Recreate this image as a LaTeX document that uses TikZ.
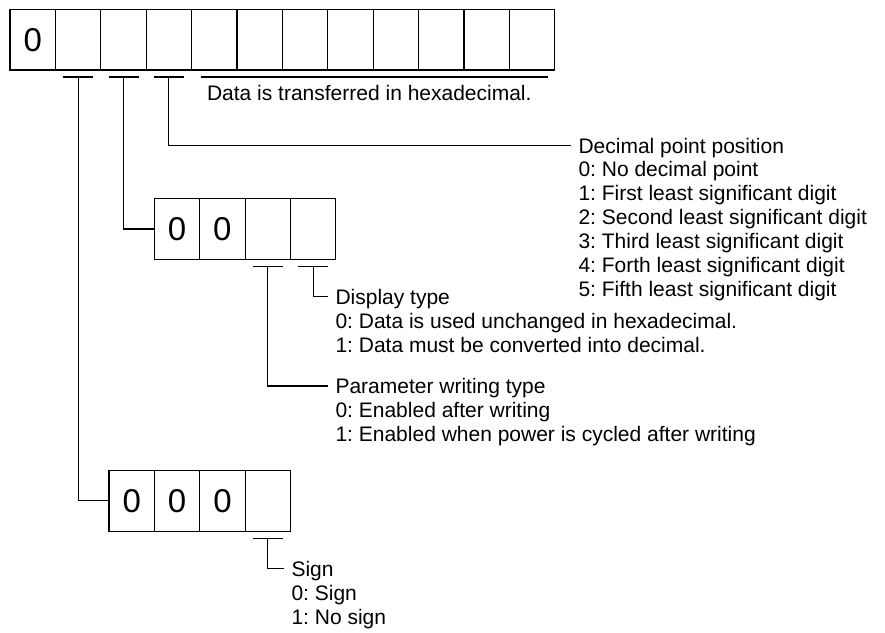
\documentclass[tikz,border=0pt]{standalone}
\usepackage{fontspec}
\setmainfont{Liberation Sans}
\frenchspacing
\begin{document}
\frenchspacing
\begin{tikzpicture}[x=1pt,y=-1pt,line width=1.1pt,
  cell/.style={draw,minimum width=45.4pt,minimum height=60.5pt,inner sep=0pt,outer sep=0pt,font=\fontsize{33}{33}\selectfont},
  digit/.style={inner sep=0pt,font=\fontsize{33}{33}\selectfont},
  txt/.style={inner sep=0pt,anchor=base west,font=\fontsize{21}{24}\selectfont},
  ttl/.style={inner ysep=0pt,inner xsep=7pt,text height=15pt,text depth=0pt,anchor=west,font=\fontsize{21}{24}\selectfont},
  tick/.style={line width=1.1pt}]
\useasboundingbox (0,0) rectangle (885,632);
% top register
\node[cell] (a1) at (32.7,39.75) {0};
\foreach \i in {2,...,12}{\node[cell] (a\i) at ({10+45.4*(\i-0.5)},39.75) {};}
\foreach \i in {2,3,4}{\draw[tick] ([xshift=-15pt,yshift=-7pt]a\i.south) -- ([xshift=15pt,yshift=-7pt]a\i.south);}
\draw ([xshift=9pt,yshift=-7pt]a5.south west) -- ([xshift=-7pt,yshift=-7pt]a12.south east);
\node[txt] (data) at (206.5,100.5) {Data is transferred in hexadecimal.};
% decimal point position
\node[ttl] (dtitle) at (571,145.5) {Decimal point position};
\foreach \s [count=\k] in {0: No decimal point,1: First least significant digit,2: Second least significant digit,3: Third least significant digit,4: Forth least significant digit,5: Fifth least significant digit}
  {\node[txt] (dl\k) at (578,{152.5+24*\k}) {\s};}
\draw ([yshift=-7pt]a4.south) |- (dtitle.west);
% middle register
\foreach \i in {1,...,4}{\node[cell] (m\i) at ({154.3+45.4*(\i-0.5)},229) {};}
\node[digit] (m1z) at (m1) {0};
\node[digit] (m2z) at (m2) {0};
\draw ([yshift=-7pt]a3.south) |- (m1.west);
\foreach \i in {3,4}{\draw[tick] ([xshift=-15pt,yshift=-7pt]m\i.south) -- ([xshift=15pt,yshift=-7pt]m\i.south);}
\node[ttl] (ytitle) at (328,296.5) {Display type};
\node[txt] (yl1) at (335,328) {0: Data is used unchanged in hexadecimal.};
\node[txt] (yl2) at (335,352) {1: Data must be converted into decimal.};
\draw ([yshift=-7pt]m4.south) |- (ytitle.west);
\node[ttl] (ptitle) at (328,386) {Parameter writing type};
\node[txt] (pl1) at (335,417.5) {0: Enabled after writing};
\node[txt] (pl2) at (335,441.5) {1: Enabled when power is cycled after writing};
\draw ([yshift=-7pt]m3.south) |- (ptitle.west);
% bottom register
\foreach \i in {1,...,4}{\node[cell] (c\i) at ({109+45.4*(\i-0.5)},500.8) {};}
\foreach \i in {1,2,3}{\node[digit] (c\i z) at (c\i) {0};}
\draw ([yshift=-7pt]a2.south) |- (c1.west);
\draw[tick] ([xshift=-15pt,yshift=-7pt]c4.south) -- ([xshift=15pt,yshift=-7pt]c4.south);
\node[ttl] (stitle) at (284,568.5) {Sign};
\node[txt] (sl1) at (291,600.5) {0: Sign};
\node[txt] (sl2) at (291,624.5) {1: No sign};
\draw ([yshift=-7pt]c4.south) |- (stitle.west);
\end{tikzpicture}
\end{document}
